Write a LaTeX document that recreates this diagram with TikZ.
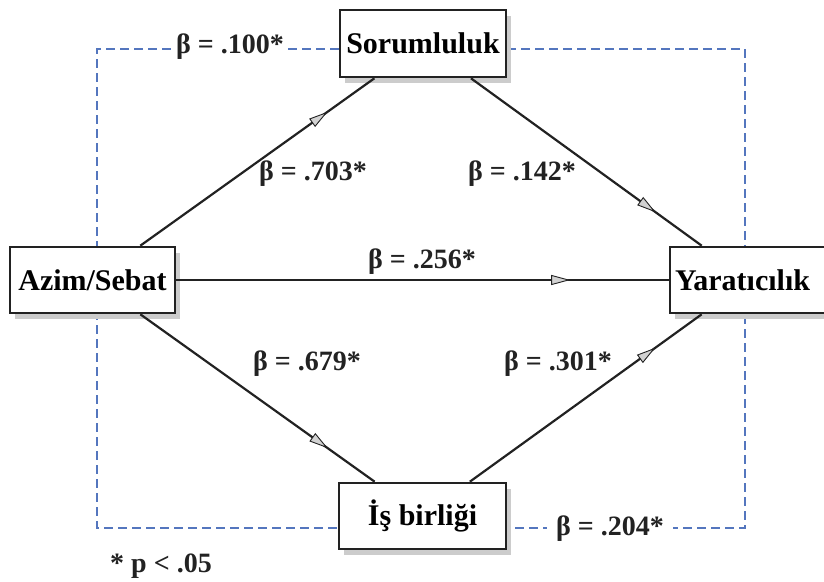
\documentclass[tikz,border=0pt]{standalone}
\usepackage{fontspec}
\setmainfont{Liberation Serif}
\usetikzlibrary{arrows.meta,decorations.markings,shadows,backgrounds}
\definecolor{dashblue}{RGB}{84,118,190}
\definecolor{linecol}{RGB}{34,34,34}

\begin{document}
\begin{tikzpicture}[x=1pt,y=-1pt,
  box/.style={draw=linecol, line width=2.6pt, fill=white, inner sep=0pt,
    font=\fontsize{30}{34}\selectfont\bfseries,
    drop shadow={shadow xshift=5pt, shadow yshift=-6pt, fill=gray!40, opacity=1}},
  coef/.style={inner sep=1pt, font=\fontsize{28}{32}\selectfont\bfseries, text=linecol},
  path/.style={draw=linecol, line width=2.2pt, postaction={decorate},
    decoration={markings, mark=at position 0.8 with {\arrow{Triangle[length=19pt,width=10pt,fill=gray!35,line width=0.9pt]}}}},
  cov/.style={draw=dashblue, line width=2pt, dash pattern=on 9pt off 5pt}]
\useasboundingbox (0,0) rectangle (824,581);
\node[box, minimum width=166pt, minimum height=67pt] (soru) at (423,43.5) {Sorumluluk};
\node[box, minimum width=165pt, minimum height=66pt] (azim) at (92.5,280) {Azim/Sebat};
\node[box, minimum width=158pt, minimum height=66pt, text width=148pt] (yarat) at (749,280) {Yaratıcılık};
\node[box, minimum width=167pt, minimum height=66pt] (isb) at (422.5,516) {İş birliği};
\coordinate (tl) at (97,49);
\coordinate (bl) at (97,528);
\coordinate (tr) at (745,49);
\coordinate (br) at (745,528);
\begin{scope}[on background layer]
\draw[cov] (soru.west |- tl) -- (tl) -- (bl) -- (isb.west |- bl);
\draw[cov] (soru.east |- tr) -- (tr) -- (br) -- (isb.east |- br);
\end{scope}
\draw[path] (azim) -- (soru);
\draw[path] (soru) -- (yarat);
\draw[path] (azim) -- (yarat);
\draw[path] (azim) -- (isb);
\draw[path] (isb) -- (yarat);
\node[coef, fill=white] (b1) at (230,47) {β = .100*};
\node[coef] (b2) at (313,174) {β = .703*};
\node[coef] (b3) at (522,174) {β = .142*};
\node[coef] (b4) at (422,262) {β = .256*};
\node[coef] (b5) at (307,364) {β = .679*};
\node[coef] (b6) at (558,364) {β = .301*};
\node[coef, fill=white, inner xsep=9pt] (b7) at (610,529) {β = .204*\hspace{12pt}};
\node[coef] (sig) at (161,566) {* p < .05};
\end{tikzpicture}
\end{document}
